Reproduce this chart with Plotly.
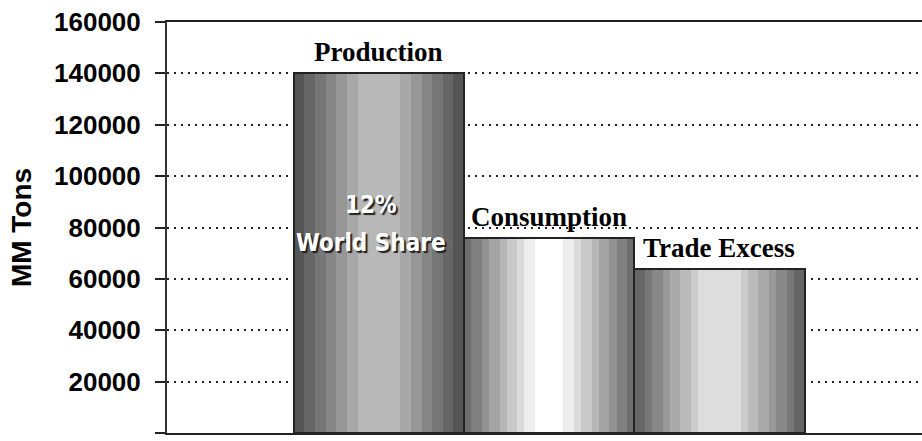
import math
import plotly.graph_objects as go

# Data
categories = ["Production", "Consumption", "Trade Excess"]
tons = [140000, 76000, 64000]
share_lines = ["12%", "World Share"]

# Banded grey shading for each bar: (edge grey, centre grey, flat-core fraction, steps per side)
shading = [
    (85, 184, 0.24, 6),
    (110, 255, 0.18, 8),
    (102, 221, 0.24, 7),
]
N_STRIPES = 48


def stripe_grey(t, edge, center, core, steps):
    d = abs(t - 0.5) * 2
    if d <= core:
        g = center
    else:
        u = (d - core) / (1 - core)
        k = min(steps, max(1, math.ceil(u * steps)))
        g = round(center - (center - edge) * k / steps)
    return f"rgb({g},{g},{g})"


fig = go.Figure()

# Stripes: grouped bar traces split each bar into vertical bands
for i in range(N_STRIPES):
    t = (i + 0.5) / N_STRIPES
    colors = [stripe_grey(t, *s) for s in shading]
    fig.add_trace(go.Bar(
        x=categories, y=tons,
        marker=dict(color=colors, line=dict(width=0)),
        showlegend=False, hoverinfo="skip",
    ))

# Outline of each bar drawn on an overlaid category axis
fig.add_trace(go.Bar(
    x=categories, y=tons, xaxis="x2",
    marker=dict(color="rgba(0,0,0,0)", line=dict(color="#222", width=2)),
    showlegend=False, hoverinfo="skip",
))

# Bar names above the bars
for c, v in zip(categories, tons):
    fig.add_annotation(
        x=c, y=v, xref="x", yref="y", text=c, showarrow=False,
        yanchor="bottom", yshift=4,
        font=dict(family="Liberation Serif, Times New Roman, serif", size=27,
                  color="black", weight="bold"),
    )

# Share note inside the production bar, one annotation per line
share_font = dict(family="Liberation Sans Narrow, Arial Narrow, DejaVu Sans Condensed, sans-serif",
                  size=24, color="white", weight="bold", shadow="2px 2px 1px #222")
for line, ypos in zip(share_lines, [0.555, 0.462]):
    fig.add_annotation(
        x=categories[0], y=ypos, xref="x", yref="paper", text=line, showarrow=False,
        xshift=-8, yanchor="middle", font=share_font,
    )

x_range = [-1.245, 3.19]
fig.update_layout(
    width=922, height=441,
    margin=dict(l=167, r=0, t=22, b=8),
    paper_bgcolor="white", plot_bgcolor="white",
    barmode="group", bargap=0, bargroupgap=0,
    xaxis=dict(
        type="category", categoryorder="array", categoryarray=categories,
        range=x_range, showticklabels=False, ticks="", showgrid=False,
        showline=True, linecolor="#222", linewidth=2, mirror=True, zeroline=False,
    ),
    xaxis2=dict(
        type="category", categoryorder="array", categoryarray=categories,
        range=x_range, overlaying="x", visible=False,
    ),
    yaxis=dict(
        range=[0, 160000], tickmode="linear", tick0=0, dtick=20000,
        tickformat="d", ticks="outside", ticklen=10, tickwidth=1.5, tickcolor="#222",
        ticklabelstandoff=9,
        tickfont=dict(family="Liberation Sans, Arial, sans-serif", size=26,
                      color="black", weight="bold"),
        showline=True, linecolor="#333", linewidth=2,
        showgrid=True, gridcolor="#222", gridwidth=1.5, griddash="2px,5px",
        zeroline=False,
        title=dict(text="MM Tons", standoff=14,
                   font=dict(family="Liberation Sans, Arial, sans-serif", size=28,
                             color="black", weight="bold")),
    ),
)

fig.write_html("out.html")
